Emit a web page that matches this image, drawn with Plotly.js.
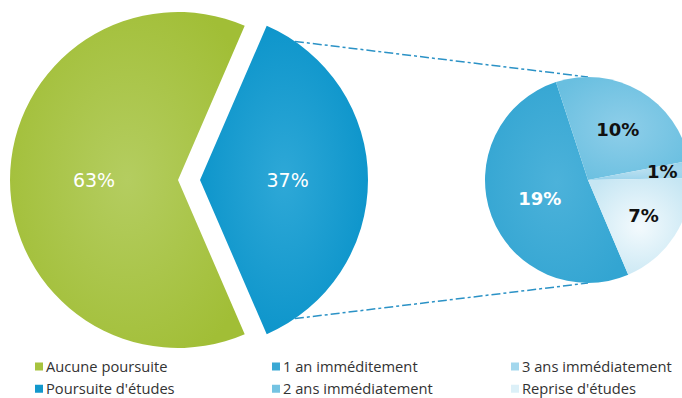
<!DOCTYPE html>
<html>
<head>
<meta charset="utf-8">
<script src="https://cdn.plot.ly/plotly-3.0.1.min.js"></script>
<style>
html,body{margin:0;padding:0;background:#fff;overflow:hidden;width:682px;height:398px;}
#chart{position:absolute;left:-40px;top:-20px;width:760px;height:418px;}
g.legendpoints{transform:translate(13px,0px);}
</style>
</head>
<body>
<div id="chart"></div>
<script>
// ---- data ----
const mainLabels = ['Aucune poursuite', "Poursuite d'études"];
const mainValues = [63, 37];
const mainColors = ['#a7c33f', '#1298cc'];

const subLabels = ['1 an imméditement', '2 ans immédiatement', '3 ans immédiatement', "Reprise d'études"];
const subValues = [19, 10, 1, 7];
const subColors = ['#3aa8d4', '#74c3e2', '#a3d7ed', '#dcf0f8'];
const subTextColors = ['#ffffff', '#111111', '#111111', '#111111'];

// radial shading (inner, outer) per slice, same order as the slices
const shadeInner = ['#b4cd60', '#2ea8d7', '#4cb2da', '#8ecee9', '#b8dff0', '#f3fafd'];
const shadeOuter = ['#a1be36', '#0892c9', '#33a5d2', '#69bfe0', '#98d2eb', '#c6e6f3'];

// ---- geometry (page px) ----
const W = 760, H = 418, OX = 40, OY = 20;
const fx = px => (px + OX) / W;
const fy = py => 1 - (py + OY) / H;

const C1 = [178, 180], R1 = 168, PULL = 22 / 168;
const C2 = [588, 180], R2 = 103;
const B1 = R1 * (1 + PULL);

const mainFont = {family: '"DejaVu Sans", sans-serif', size: 19, weight: 'normal'};
const subFont = {family: '"DejaVu Sans", sans-serif', size: 18, weight: 'bold'};

const traces = [];
traces.push({
  type: 'pie',
  labels: mainLabels,
  values: mainValues,
  sort: false,
  direction: 'clockwise',
  rotation: 156.6,
  pull: [0, PULL],
  marker: {colors: mainColors, line: {width: 0}},
  texttemplate: '%{value}%',
  textposition: 'inside',
  insidetextorientation: 'horizontal',
  insidetextfont: Object.assign({}, mainFont, {color: ['#ffffff', '#ffffff']}),
  domain: {x: [fx(C1[0] - B1), fx(C1[0] + B1)], y: [fy(C1[1] + B1), fy(C1[1] - B1)]},
  showlegend: false,
  hoverinfo: 'skip'
});
traces.push({
  type: 'pie',
  labels: subLabels,
  values: subValues,
  sort: false,
  direction: 'clockwise',
  rotation: 157,
  marker: {colors: subColors, line: {width: 0}},
  texttemplate: '%{value}%',
  textposition: ['inside', 'inside', 'none', 'inside'],
  insidetextorientation: 'horizontal',
  insidetextfont: Object.assign({}, subFont, {color: subTextColors}),
  domain: {x: [fx(C2[0] - R2), fx(C2[0] + R2)], y: [fy(C2[1] + R2), fy(C2[1] - R2)]},
  showlegend: false,
  hoverinfo: 'skip'
});

// legend entries (3 columns of 2)
const legendOf = ['legend', 'legend', 'legend2', 'legend2', 'legend3', 'legend3'];
const allLabels = mainLabels.concat(subLabels);
const allColors = mainColors.concat(subColors);
allLabels.forEach((lab, i) => {
  traces.push({
    type: 'scatter', mode: 'markers', x: [null], y: [null],
    name: lab, legend: legendOf[i], legendgroup: 'g' + i,
    marker: {symbol: 'square', size: 8, color: allColors[i], line: {width: 0}},
    hoverinfo: 'skip'
  });
});

// connector lines from exploded slice to the sub pie
const a = 55.6 * Math.PI / 180;
const vx = C1[0] + R1 * PULL;
const p1 = [vx + R1 * Math.cos(a), C1[1] - R1 * Math.sin(a)];
const p2 = [vx + R1 * Math.cos(a), C1[1] + R1 * Math.sin(a)];
const lineStyle = {color: '#2b92c6', width: 1.5, dash: 'dashdot'};
const shapes = [
  {type: 'line', xref: 'paper', yref: 'paper', x0: fx(p1[0]), y0: fy(p1[1]), x1: fx(C2[0]), y1: fy(C2[1] - R2), line: lineStyle, layer: 'below'},
  {type: 'line', xref: 'paper', yref: 'paper', x0: fx(p2[0]), y0: fy(p2[1]), x1: fx(C2[0]), y1: fy(C2[1] + R2), line: lineStyle, layer: 'below'}
];

const legendBase = {
  orientation: 'v', xanchor: 'left', yanchor: 'top',
  bgcolor: 'rgba(0,0,0,0)', borderwidth: 0, tracegroupgap: 0,
  traceorder: 'grouped',
  font: {family: '"Open Sans", sans-serif', size: 14.7, color: '#333333'},
  itemclick: false, itemdoubleclick: false
};
const legTop = fy(350.5);

const layout = {
  width: W, height: H,
  margin: {l: 0, r: 0, t: 0, b: 0, autoexpand: false},
  paper_bgcolor: '#ffffff', plot_bgcolor: 'rgba(0,0,0,0)',
  xaxis: {visible: false, range: [0, 1]},
  yaxis: {visible: false, range: [0, 1]},
  showlegend: true,
  legend: Object.assign({}, legendBase, {x: fx(6), y: legTop}),
  legend2: Object.assign({}, legendBase, {x: fx(243), y: legTop}),
  legend3: Object.assign({}, legendBase, {x: fx(482), y: legTop}),
  shapes: shapes,
  annotations: [{
    xref: 'paper', yref: 'paper', x: fx(662), y: fy(172),
    xanchor: 'center', yanchor: 'middle',
    text: subValues[2] + '%', showarrow: false,
    font: Object.assign({}, subFont, {color: '#111111'})
  }],
  hovermode: false
};

Plotly.newPlot('chart', traces, layout, {staticPlot: true, displayModeBar: false}).then(gd => {
  // soft radial shading on each slice, like the original
  const svg = gd.querySelector('svg.main-svg');
  const ns = 'http://www.w3.org/2000/svg';
  const defs = document.createElementNS(ns, 'defs');
  shadeInner.forEach((c, i) => {
    const g = document.createElementNS(ns, 'radialGradient');
    g.setAttribute('id', 'shade' + i);
    g.setAttribute('cx', '0.5'); g.setAttribute('cy', '0.5'); g.setAttribute('r', '0.6');
    const s0 = document.createElementNS(ns, 'stop');
    s0.setAttribute('offset', '0'); s0.setAttribute('stop-color', c);
    const s1 = document.createElementNS(ns, 'stop');
    s1.setAttribute('offset', '1'); s1.setAttribute('stop-color', shadeOuter[i]);
    g.appendChild(s0); g.appendChild(s1);
    defs.appendChild(g);
  });
  svg.insertBefore(defs, svg.firstChild);
  gd.querySelectorAll('g.slice path.surface').forEach((p, i) => {
    if (i < shadeInner.length) p.style.fill = 'url(#shade' + i + ')';
  });
});
</script>
</body>
</html>
